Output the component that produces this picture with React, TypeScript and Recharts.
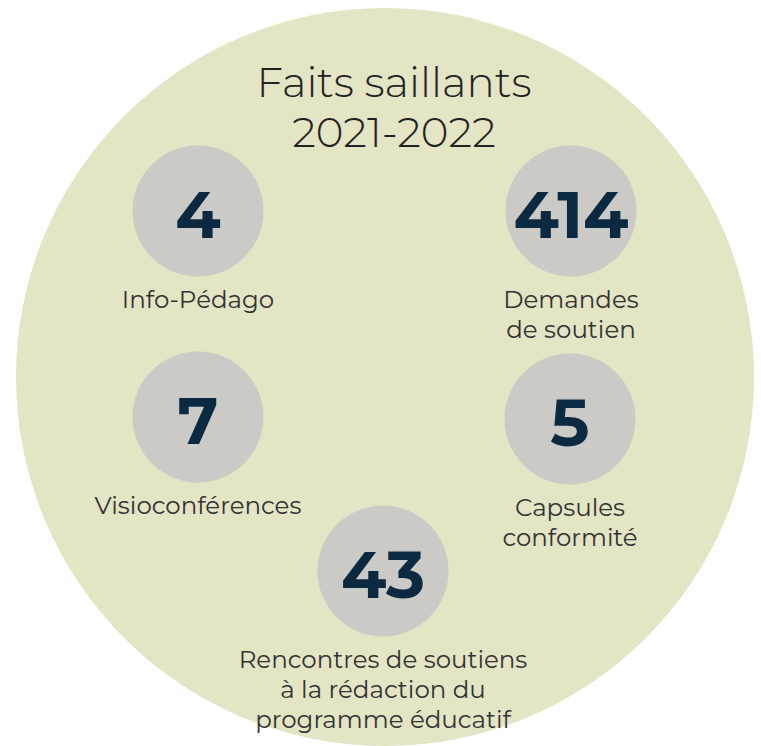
import { ScatterChart, Scatter, XAxis, YAxis } from "recharts";

// stats shown in the grey bubbles
const values = [4, 414, 7, 5, 43];
const labels = [
  ["Info-Pédago"],
  ["Demandes", "de soutien"],
  ["Visioconférences"],
  ["Capsules", "conformité"],
  ["Rencontres de soutiens", "à la rédaction du", "programme éducatif"],
];
const bubbleX = [198, 571, 198, 570, 383];
const bubbleY = [211, 211, 417, 419, 571];

const titleLines = ["Faits saillants", "2021-2022"];

const W = 761;
const H = 746;
const FONT = "Montserrat, 'Open Sans', sans-serif";

const bubbles = values.map((v, i) => ({
  x: bubbleX[i],
  y: bubbleY[i],
  value: v,
  label: labels[i],
}));
const backdrop = [{ x: 385, y: 377 }];
const title = [{ x: 394, y: 97 }];

const BigCircle = (props: any) => (
  <circle cx={props.cx} cy={props.cy} r={369} fill="#e3e5c4" />
);

const Bubble = (props: any) => {
  const { cx, cy, payload } = props;
  return (
    <g>
      <circle cx={cx} cy={cy} r={65.5} fill="#cbcac6" />
      <text
        x={cx}
        y={cy + 27}
        textAnchor="middle"
        fontFamily={FONT}
        fontWeight={700}
        fontSize={66}
        fill="#0b2940"
      >
        {payload.value}
      </text>
      {payload.label.map((line: string, i: number) => (
        <text
          key={i}
          x={cx}
          y={cy + 97 + i * 30}
          textAnchor="middle"
          fontFamily={FONT}
          fontSize={24.5}
          fill="#333333"
        >
          {line}
        </text>
      ))}
    </g>
  );
};

const Title = (props: any) => (
  <g>
    {titleLines.map((line, i) => (
      <text
        key={i}
        x={props.cx}
        y={props.cy + i * 50}
        textAnchor="middle"
        fontFamily={FONT}
        fontWeight={300}
        fontSize={42}
        fill="#222222"
      >
        {line}
      </text>
    ))}
  </g>
);

export default function App() {
  return (
    <div style={{ position: "absolute", left: 0, top: 0, background: "#fff" }}>
      <ScatterChart width={W} height={H} margin={{ top: 0, right: 0, bottom: 0, left: 0 }}>
        <XAxis type="number" dataKey="x" domain={[0, W]} hide />
        <YAxis type="number" dataKey="y" domain={[0, H]} reversed hide />
        <Scatter data={backdrop} shape={BigCircle} isAnimationActive={false} />
        <Scatter data={title} shape={Title} isAnimationActive={false} />
        <Scatter data={bubbles} shape={Bubble} isAnimationActive={false} />
      </ScatterChart>
    </div>
  );
}
